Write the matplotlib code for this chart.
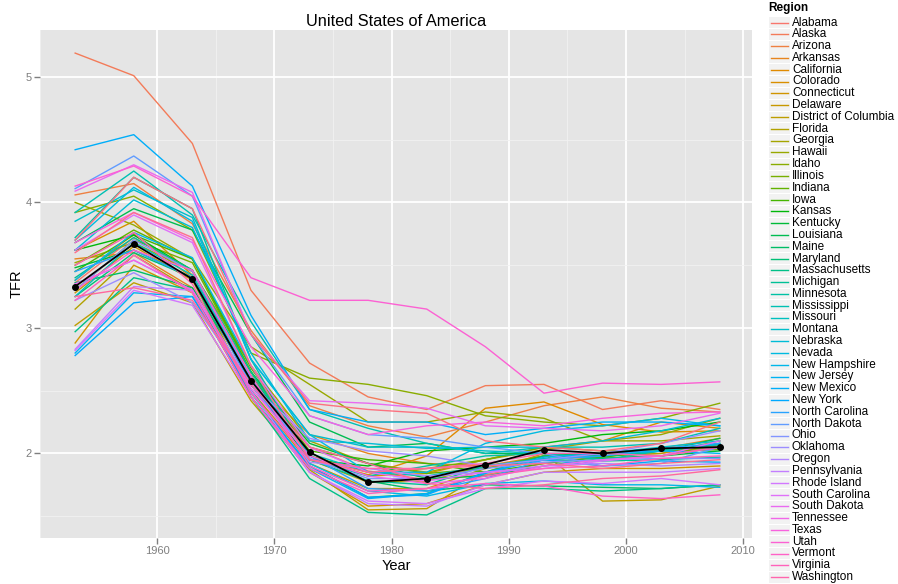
import numpy as np
import matplotlib
matplotlib.use("Agg")
import matplotlib.pyplot as plt
from matplotlib.patches import Rectangle
from matplotlib.lines import Line2D

plt.rcParams['font.family'] = ['Liberation Sans', 'DejaVu Sans']

years = [1953, 1958, 1963, 1968, 1973, 1978, 1983, 1988, 1993, 1998, 2003, 2008]

regions = ["Alabama", "Alaska", "Arizona", "Arkansas", "California", "Colorado",
           "Connecticut", "Delaware", "District of Columbia", "Florida", "Georgia",
           "Hawaii", "Idaho", "Illinois", "Indiana", "Iowa", "Kansas", "Kentucky",
           "Louisiana", "Maine", "Maryland", "Massachusetts", "Michigan", "Minnesota",
           "Mississippi", "Missouri", "Montana", "Nebraska", "Nevada", "New Hampshire",
           "New Jersey", "New Mexico", "New York", "North Carolina", "North Dakota",
           "Ohio", "Oklahoma", "Oregon", "Pennsylvania", "Rhode Island",
           "South Carolina", "South Dakota", "Tennessee", "Texas", "Utah", "Vermont",
           "Virginia", "Washington", "West Virginia", "Wisconsin", "Wyoming"]

# TFR per region, one row per region (same order as `regions`), columns = years
tfr = [
    [3.36, 3.72, 3.45, 2.62, 2.05, 1.86, 1.79, 1.83, 1.92, 1.98, 2.00, 2.06],  # Alabama
    [5.19, 5.01, 4.47, 3.30, 2.72, 2.45, 2.35, 2.54, 2.55, 2.35, 2.42, 2.35],  # Alaska
    [4.06, 4.15, 3.83, 2.98, 2.38, 2.22, 2.13, 2.25, 2.38, 2.45, 2.36, 2.33],  # Arizona
    [3.55, 3.60, 3.32, 2.60, 2.15, 2.00, 1.92, 1.90, 1.98, 2.00, 2.04, 2.12],  # Arkansas
    [3.38, 3.75, 3.40, 2.55, 1.95, 1.83, 1.98, 2.36, 2.41, 2.23, 2.17, 2.18],  # California
    [3.62, 3.85, 3.42, 2.55, 1.98, 1.82, 1.84, 1.95, 2.05, 2.10, 2.25, 2.20],  # Colorado
    [2.88, 3.50, 3.28, 2.45, 1.85, 1.58, 1.60, 1.75, 1.85, 1.88, 1.88, 1.90],  # Connecticut
    [3.28, 3.65, 3.38, 2.50, 1.92, 1.72, 1.72, 1.88, 1.98, 1.96, 1.98, 2.08],  # Delaware
    [3.02, 3.36, 3.20, 2.42, 1.87, 1.55, 1.56, 1.85, 2.00, 1.62, 1.63, 1.74],  # DC
    [3.15, 3.58, 3.30, 2.50, 1.95, 1.77, 1.78, 1.90, 1.95, 1.98, 2.00, 2.10],  # Florida
    [3.52, 3.68, 3.45, 2.70, 2.10, 1.92, 1.85, 1.95, 2.03, 2.10, 2.10, 2.14],  # Georgia
    [4.00, 3.82, 3.55, 2.85, 2.55, 2.25, 2.25, 2.33, 2.28, 2.10, 2.15, 2.28],  # Hawaii
    [3.92, 4.05, 3.78, 2.80, 2.60, 2.55, 2.46, 2.30, 2.25, 2.22, 2.28, 2.40],  # Idaho
    [3.30, 3.70, 3.52, 2.65, 1.98, 1.85, 1.88, 1.95, 2.05, 2.02, 2.02, 2.03],  # Illinois
    [3.50, 3.78, 3.55, 2.68, 2.05, 1.92, 1.84, 1.88, 1.98, 2.00, 2.03, 2.05],  # Indiana
    [3.45, 3.74, 3.55, 2.65, 2.02, 1.95, 1.92, 1.85, 1.92, 1.97, 2.02, 2.07],  # Iowa
    [3.62, 3.74, 3.46, 2.55, 1.95, 1.90, 2.02, 2.05, 2.08, 2.15, 2.18, 2.25],  # Kansas
    [3.48, 3.62, 3.40, 2.65, 2.08, 1.92, 1.80, 1.82, 1.90, 1.96, 1.98, 2.02],  # Kentucky
    [3.68, 3.95, 3.78, 2.95, 2.25, 2.05, 2.08, 2.00, 2.00, 1.98, 2.02, 2.12],  # Louisiana
    [3.36, 3.46, 3.32, 2.62, 1.98, 1.78, 1.70, 1.75, 1.74, 1.73, 1.72, 1.75],  # Maine
    [3.25, 3.60, 3.40, 2.45, 1.90, 1.65, 1.68, 1.85, 1.98, 1.96, 1.98, 2.05],  # Maryland
    [2.97, 3.40, 3.30, 2.45, 1.80, 1.53, 1.51, 1.72, 1.72, 1.70, 1.72, 1.75],  # Massachusetts
    [3.40, 3.72, 3.46, 2.65, 1.95, 1.78, 1.75, 1.90, 1.95, 1.94, 1.95, 1.97],  # Michigan
    [3.72, 4.20, 3.95, 2.75, 1.95, 1.82, 1.90, 1.98, 2.00, 1.95, 2.02, 2.08],  # Minnesota
    [3.92, 4.25, 3.90, 3.05, 2.35, 2.20, 2.08, 2.00, 2.05, 2.05, 2.08, 2.20],  # Mississippi
    [3.25, 3.68, 3.42, 2.60, 2.00, 1.85, 1.82, 1.90, 1.96, 1.98, 2.02, 2.07],  # Missouri
    [3.85, 4.10, 3.88, 2.75, 2.15, 2.05, 2.05, 2.02, 2.00, 2.00, 2.05, 2.10],  # Montana
    [3.62, 4.02, 3.80, 2.80, 2.10, 2.08, 2.04, 2.05, 2.05, 2.10, 2.18, 2.28],  # Nebraska
    [3.70, 4.12, 3.85, 2.75, 2.15, 1.85, 1.85, 2.08, 2.18, 2.22, 2.28, 2.22],  # Nevada
    [3.38, 3.76, 3.56, 2.70, 1.92, 1.70, 1.66, 1.76, 1.78, 1.75, 1.75, 1.73],  # New Hampshire
    [2.80, 3.28, 3.25, 2.50, 1.88, 1.64, 1.68, 1.84, 1.97, 2.00, 2.02, 2.00],  # New Jersey
    [4.42, 4.54, 4.13, 3.10, 2.35, 2.25, 2.25, 2.15, 2.20, 2.25, 2.25, 2.22],  # New Mexico
    [2.78, 3.20, 3.25, 2.48, 1.90, 1.65, 1.67, 1.85, 1.95, 1.90, 1.94, 1.93],  # New York
    [3.45, 3.62, 3.40, 2.55, 1.98, 1.72, 1.70, 1.80, 1.95, 1.98, 2.04, 2.08],  # North Carolina
    [4.11, 4.37, 4.05, 2.95, 2.30, 2.15, 2.12, 2.05, 2.00, 1.90, 1.92, 2.05],  # North Dakota
    [3.30, 3.70, 3.45, 2.60, 1.96, 1.80, 1.80, 1.88, 1.93, 1.95, 1.96, 1.96],  # Ohio
    [3.22, 3.44, 3.20, 2.55, 2.12, 2.02, 1.98, 1.90, 1.95, 2.00, 2.08, 2.18],  # Oklahoma
    [3.35, 3.54, 3.30, 2.55, 1.93, 1.88, 1.82, 1.85, 1.90, 1.92, 1.90, 1.92],  # Oregon
    [2.83, 3.33, 3.30, 2.50, 1.85, 1.60, 1.58, 1.75, 1.85, 1.85, 1.85, 1.88],  # Pennsylvania
    [2.82, 3.30, 3.18, 2.45, 1.85, 1.62, 1.60, 1.72, 1.78, 1.76, 1.80, 1.75],  # Rhode Island
    [3.62, 3.90, 3.68, 2.70, 2.05, 1.85, 1.78, 1.85, 1.88, 1.94, 1.98, 2.10],  # South Carolina
    [4.09, 4.30, 4.08, 2.95, 2.42, 2.40, 2.36, 2.22, 2.20, 2.18, 2.22, 2.32],  # South Dakota
    [3.35, 3.54, 3.30, 2.52, 1.98, 1.82, 1.76, 1.80, 1.90, 1.95, 1.98, 2.05],  # Tennessee
    [3.68, 3.92, 3.70, 2.85, 2.30, 2.15, 2.22, 2.25, 2.22, 2.28, 2.32, 2.33],  # Texas
    [4.13, 4.29, 4.05, 3.40, 3.22, 3.22, 3.15, 2.85, 2.48, 2.56, 2.55, 2.57],  # Utah
    [3.30, 3.62, 3.46, 2.62, 1.90, 1.70, 1.72, 1.76, 1.74, 1.66, 1.64, 1.67],  # Vermont
    [3.22, 3.58, 3.28, 2.45, 1.88, 1.68, 1.72, 1.82, 1.88, 1.90, 1.96, 1.98],  # Virginia
    [3.50, 3.76, 3.35, 2.48, 1.95, 1.88, 1.88, 1.92, 2.00, 2.00, 1.98, 2.05],  # Washington
    [3.25, 3.32, 3.22, 2.55, 2.05, 1.92, 1.76, 1.72, 1.75, 1.80, 1.82, 1.87],  # West Virginia
    [3.60, 3.92, 3.72, 2.70, 1.95, 1.85, 1.88, 1.90, 1.92, 1.88, 1.92, 1.95],  # Wisconsin
    [3.70, 4.20, 3.95, 2.95, 2.40, 2.35, 2.32, 2.10, 2.05, 2.02, 2.08, 2.25],  # Wyoming
]

us_tfr = [3.33, 3.67, 3.39, 2.58, 2.01, 1.77, 1.80, 1.91, 2.03, 2.00, 2.04, 2.05]

x_ticks = [1960, 1970, 1980, 1990, 2000, 2010]
y_ticks = [2, 3, 4, 5]


def hcl_to_rgb(h, c=100.0, l=65.0):
    hr = np.deg2rad(h)
    u = c * np.cos(hr)
    v = c * np.sin(hr)
    Xn, Yn, Zn = 95.047, 100.0, 108.883
    un = 4 * Xn / (Xn + 15 * Yn + 3 * Zn)
    vn = 9 * Yn / (Xn + 15 * Yn + 3 * Zn)
    Y = Yn * ((l + 16) / 116) ** 3 if l > 8 else Yn * l / 903.3
    up = u / (13 * l) + un
    vp = v / (13 * l) + vn
    X = 9.0 * Y * up / (4 * vp)
    Z = -X / 3 - 5 * Y + 3 * Y / vp
    X, Y, Z = X / 100, Y / 100, Z / 100
    r = 3.240479 * X - 1.537150 * Y - 0.498535 * Z
    g = -0.969256 * X + 1.875992 * Y + 0.041556 * Z
    b = 0.055648 * X - 0.204043 * Y + 1.057311 * Z

    def gam(t):
        t = 12.92 * t if t <= 0.0031308 else 1.055 * t ** (1 / 2.4) - 0.055
        return min(max(t, 0.0), 1.0)
    return (gam(r), gam(g), gam(b))


n = len(regions)
hues = np.linspace(15, 375, n + 1)[:n]
colors = [hcl_to_rgb(h % 360) for h in hues]

W, H = 898, 584
fig = plt.figure(figsize=(W / 100, H / 100), dpi=100)
fig.patch.set_facecolor('white')

pl, pr, pt, pb = 40, 752, 30, 538
ax = fig.add_axes([pl / W, 1 - pb / H, (pr - pl) / W, (pb - pt) / H])
ax.set_facecolor('#E5E5E5')

for i, (name, vals) in enumerate(zip(regions, tfr)):
    ax.plot(years, vals, color=colors[i], lw=1.0, zorder=3)

ax.plot(years, us_tfr, color='black', lw=1.25, zorder=5)
ax.plot(years, us_tfr, 'o', color='black', ms=4, zorder=6)

# limits with ggplot-like 5% expansion
allv = np.array(tfr + [us_tfr])
ymin, ymax = allv.min(), allv.max()
ey = 0.05 * (ymax - ymin)
ax.set_ylim(ymin - ey, ymax + ey)
ex = 0.05 * (years[-1] - years[0])
ax.set_xlim(years[0] - ex, years[-1] + ex)

ax.set_xticks(x_ticks)
ax.set_yticks(y_ticks)
ax.set_xticks([t + 5 for t in x_ticks[:-1]] + [1950], minor=True)
ax.set_yticks([1.5, 2.5, 3.5, 4.5], minor=True)
ax.grid(which='major', color='white', lw=1.3, zorder=0)
ax.grid(which='minor', color='#F2F2F2', lw=0.6, zorder=0)
ax.set_axisbelow(True)
for s in ax.spines.values():
    s.set_visible(False)
ax.tick_params(which='major', colors='#7F7F7F', labelsize=8, length=4, width=1,
               direction='out', pad=2)
ax.tick_params(which='minor', length=0)

ax.set_title("United States of America", fontsize=11.8, pad=3)
ax.set_xlabel("Year", fontsize=10.5, labelpad=2)
ax.set_ylabel("TFR", fontsize=10.5, labelpad=1)


def fx(px):
    return px / W


def fy(py):
    return 1 - py / H


# legend (manual, ggplot style); entries beyond the figure edge are not visible
fig.text(fx(768), fy(8), "Region", fontsize=8.5, fontweight='bold',
         ha='left', va='center')
row0 = 22.5
step = 11.8
for i, name in enumerate(regions):
    yc = row0 + i * step
    if yc + 5 > H:
        break
    fig.add_artist(Rectangle((fx(769), fy(yc + step / 2 - 0.5)), (790 - 769) / W,
                             (step - 1) / H, transform=fig.transFigure,
                             facecolor='#F2F2F2', edgecolor='none'))
    fig.add_artist(Line2D([fx(771), fx(788)], [fy(yc), fy(yc)],
                          transform=fig.transFigure, color=colors[i], lw=1.0))
    fig.text(fx(792), fy(yc), name, fontsize=8.5, ha='left', va='center')

fig.savefig("out.png", dpi=100)
